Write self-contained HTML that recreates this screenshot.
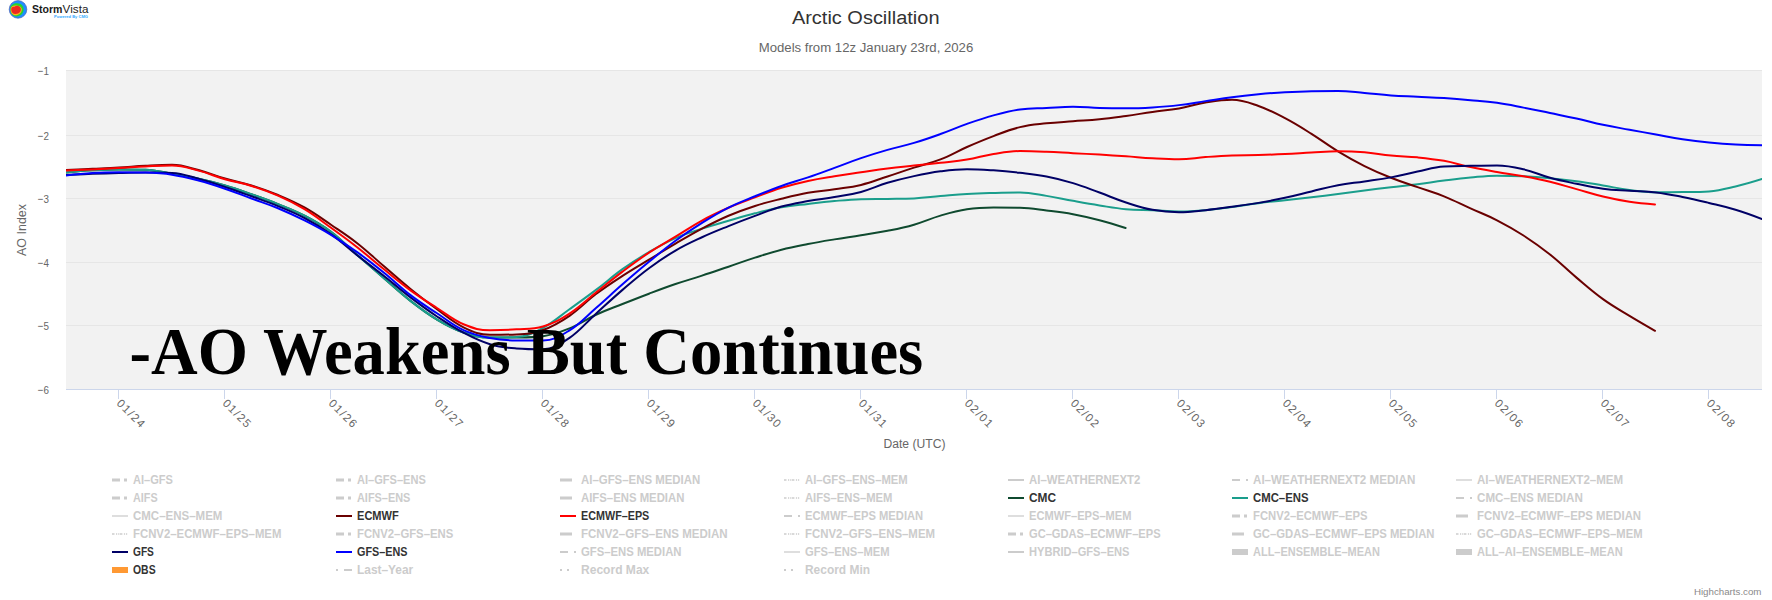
<!DOCTYPE html><html><head><meta charset="utf-8"><style>html,body{margin:0;padding:0;background:#fff;width:1772px;height:600px;overflow:hidden}svg{display:block}text{font-family:"Liberation Sans",sans-serif}</style></head><body>
<svg width="1772" height="600" viewBox="0 0 1772 600">
<rect width="1772" height="600" fill="#fff"/>
<rect x="66" y="70" width="1696" height="319" fill="#f2f2f2"/>
<rect x="66" y="70" width="1696" height="1" fill="#e6e6e6"/>
<rect x="66" y="135" width="1696" height="1" fill="#e6e6e6"/>
<rect x="66" y="198" width="1696" height="1" fill="#e6e6e6"/>
<rect x="66" y="262" width="1696" height="1" fill="#e6e6e6"/>
<rect x="66" y="325" width="1696" height="1" fill="#e6e6e6"/>
<rect x="66" y="389" width="1696" height="1" fill="#ccd6eb"/>
<rect x="118" y="390" width="1" height="9" fill="#ccd6eb"/>
<rect x="224" y="390" width="1" height="9" fill="#ccd6eb"/>
<rect x="330" y="390" width="1" height="9" fill="#ccd6eb"/>
<rect x="436" y="390" width="1" height="9" fill="#ccd6eb"/>
<rect x="542" y="390" width="1" height="9" fill="#ccd6eb"/>
<rect x="648" y="390" width="1" height="9" fill="#ccd6eb"/>
<rect x="754" y="390" width="1" height="9" fill="#ccd6eb"/>
<rect x="860" y="390" width="1" height="9" fill="#ccd6eb"/>
<rect x="966" y="390" width="1" height="9" fill="#ccd6eb"/>
<rect x="1072" y="390" width="1" height="9" fill="#ccd6eb"/>
<rect x="1178" y="390" width="1" height="9" fill="#ccd6eb"/>
<rect x="1284" y="390" width="1" height="9" fill="#ccd6eb"/>
<rect x="1390" y="390" width="1" height="9" fill="#ccd6eb"/>
<rect x="1496" y="390" width="1" height="9" fill="#ccd6eb"/>
<rect x="1602" y="390" width="1" height="9" fill="#ccd6eb"/>
<rect x="1708" y="390" width="1" height="9" fill="#ccd6eb"/>
<text x="49" y="74.6" text-anchor="end" font-size="11.8" fill="#666" textLength="11.2" lengthAdjust="spacingAndGlyphs">−1</text>
<text x="49" y="139.6" text-anchor="end" font-size="11.8" fill="#666" textLength="11.2" lengthAdjust="spacingAndGlyphs">−2</text>
<text x="49" y="202.6" text-anchor="end" font-size="11.8" fill="#666" textLength="11.2" lengthAdjust="spacingAndGlyphs">−3</text>
<text x="49" y="266.6" text-anchor="end" font-size="11.8" fill="#666" textLength="11.2" lengthAdjust="spacingAndGlyphs">−4</text>
<text x="49" y="329.6" text-anchor="end" font-size="11.8" fill="#666" textLength="11.2" lengthAdjust="spacingAndGlyphs">−5</text>
<text x="49" y="393.6" text-anchor="end" font-size="11.8" fill="#666" textLength="11.2" lengthAdjust="spacingAndGlyphs">−6</text>
<text transform="translate(116,404) rotate(45)" font-size="11.5" fill="#666" textLength="34.5" lengthAdjust="spacing">01/24</text>
<text transform="translate(222,404) rotate(45)" font-size="11.5" fill="#666" textLength="34.5" lengthAdjust="spacing">01/25</text>
<text transform="translate(328,404) rotate(45)" font-size="11.5" fill="#666" textLength="34.5" lengthAdjust="spacing">01/26</text>
<text transform="translate(434,404) rotate(45)" font-size="11.5" fill="#666" textLength="34.5" lengthAdjust="spacing">01/27</text>
<text transform="translate(540,404) rotate(45)" font-size="11.5" fill="#666" textLength="34.5" lengthAdjust="spacing">01/28</text>
<text transform="translate(646,404) rotate(45)" font-size="11.5" fill="#666" textLength="34.5" lengthAdjust="spacing">01/29</text>
<text transform="translate(752,404) rotate(45)" font-size="11.5" fill="#666" textLength="34.5" lengthAdjust="spacing">01/30</text>
<text transform="translate(858,404) rotate(45)" font-size="11.5" fill="#666" textLength="34.5" lengthAdjust="spacing">01/31</text>
<text transform="translate(964,404) rotate(45)" font-size="11.5" fill="#666" textLength="34.5" lengthAdjust="spacing">02/01</text>
<text transform="translate(1070,404) rotate(45)" font-size="11.5" fill="#666" textLength="34.5" lengthAdjust="spacing">02/02</text>
<text transform="translate(1176,404) rotate(45)" font-size="11.5" fill="#666" textLength="34.5" lengthAdjust="spacing">02/03</text>
<text transform="translate(1282,404) rotate(45)" font-size="11.5" fill="#666" textLength="34.5" lengthAdjust="spacing">02/04</text>
<text transform="translate(1388,404) rotate(45)" font-size="11.5" fill="#666" textLength="34.5" lengthAdjust="spacing">02/05</text>
<text transform="translate(1494,404) rotate(45)" font-size="11.5" fill="#666" textLength="34.5" lengthAdjust="spacing">02/06</text>
<text transform="translate(1600,404) rotate(45)" font-size="11.5" fill="#666" textLength="34.5" lengthAdjust="spacing">02/07</text>
<text transform="translate(1706,404) rotate(45)" font-size="11.5" fill="#666" textLength="34.5" lengthAdjust="spacing">02/08</text>
<text x="914.5" y="448" text-anchor="middle" font-size="12" fill="#666" textLength="62" lengthAdjust="spacingAndGlyphs">Date (UTC)</text>
<text transform="translate(26,230) rotate(-90)" text-anchor="middle" font-size="12" fill="#666" textLength="52" lengthAdjust="spacingAndGlyphs">AO Index</text>
<text x="865.7" y="24" text-anchor="middle" font-size="18" fill="#333" textLength="147.6" lengthAdjust="spacingAndGlyphs">Arctic Oscillation</text>
<text x="866" y="52" text-anchor="middle" font-size="12" fill="#666" textLength="214.6" lengthAdjust="spacingAndGlyphs">Models from 12z January 23rd, 2026</text>
<clipPath id="pc"><rect x="66" y="70" width="1696" height="319"/></clipPath>
<g clip-path="url(#pc)" fill="none" stroke-width="2" stroke-linejoin="round" stroke-linecap="round">
<path d="M66.00 172.40C66.00 172.40 81.90 170.90 92.50 170.30C103.10 169.71 108.40 169.41 119.00 169.41C129.60 169.41 134.90 169.41 145.50 169.68C156.10 169.95 161.40 172.06 172.00 173.88C182.60 175.70 187.90 176.47 198.50 178.78C209.10 181.10 214.40 182.36 225.00 185.46C235.60 188.55 240.90 190.54 251.50 194.26C262.10 197.98 267.40 199.78 278.00 204.06C288.60 208.34 293.90 210.12 304.50 215.66C315.10 221.20 320.40 223.85 331.00 231.77C341.60 239.69 346.90 245.96 357.50 255.24C368.10 264.53 373.40 269.08 384.00 278.21C394.60 287.35 399.90 292.63 410.50 300.90C421.10 309.18 426.40 313.27 437.00 319.59C447.60 325.92 452.90 328.92 463.50 332.51C474.10 336.10 479.40 337.55 490.00 337.55C500.60 337.55 505.90 337.55 516.50 337.45C527.10 337.35 532.40 337.45 543.00 336.18C553.60 334.90 558.90 332.69 569.50 328.41C580.10 324.13 585.40 319.65 596.00 314.77C606.60 309.89 611.90 308.22 622.50 304.01C633.10 299.79 638.40 297.68 649.00 293.69C659.60 289.69 664.90 287.65 675.50 284.04C686.10 280.43 691.40 279.10 702.00 275.63C712.60 272.16 717.90 270.27 728.50 266.68C739.10 263.09 744.40 261.08 755.00 257.67C765.60 254.27 770.90 252.40 781.50 249.67C792.10 246.93 797.40 246.06 808.00 244.00C818.60 241.94 823.90 241.11 834.50 239.37C845.10 237.62 850.40 236.98 861.00 235.26C871.60 233.55 876.90 232.90 887.50 230.79C898.10 228.67 903.40 227.71 914.00 224.67C924.60 221.64 929.90 218.68 940.50 215.61C951.10 212.53 956.40 210.91 967.00 209.31C977.60 207.71 982.90 207.59 993.50 207.59C1004.10 207.59 1009.40 207.59 1020.00 207.83C1030.60 208.07 1035.90 209.19 1046.50 210.46C1057.10 211.73 1062.40 212.22 1073.00 214.16C1083.60 216.11 1088.90 217.40 1099.50 220.19C1109.94 222.94 1125.60 228.00 1125.60 228.00" stroke="#0f4a2f"/>
<path d="M66.00 172.40C66.00 172.40 81.90 170.90 92.50 170.30C103.10 169.71 108.40 169.41 119.00 169.41C129.60 169.41 134.90 169.41 145.50 169.68C156.10 169.95 161.40 172.06 172.00 173.88C182.60 175.70 187.90 176.47 198.50 178.78C209.10 181.10 214.40 182.36 225.00 185.46C235.60 188.55 240.90 190.54 251.50 194.26C262.10 197.98 267.40 199.78 278.00 204.06C288.60 208.34 293.90 210.12 304.50 215.66C315.10 221.20 320.40 223.85 331.00 231.77C341.60 239.69 346.90 245.96 357.50 255.24C368.10 264.53 373.40 269.08 384.00 278.21C394.60 287.35 399.90 292.63 410.50 300.90C421.10 309.18 426.40 313.27 437.00 319.59C447.60 325.92 452.90 328.91 463.50 332.51C474.10 336.11 479.40 337.59 490.00 337.59C500.60 337.59 505.90 337.59 516.50 337.03C527.10 336.47 532.40 333.35 543.00 327.79C553.60 322.23 558.90 316.81 569.50 309.23C580.10 301.65 585.40 297.91 596.00 289.90C606.60 281.89 611.90 276.73 622.50 269.17C633.10 261.60 638.40 258.30 649.00 252.08C659.60 245.86 664.90 242.74 675.50 238.06C686.10 233.38 691.40 232.14 702.00 228.67C712.60 225.20 717.90 223.79 728.50 220.72C739.10 217.65 744.40 215.99 755.00 213.31C765.60 210.64 770.90 209.22 781.50 207.34C792.10 205.47 797.40 205.19 808.00 203.93C818.60 202.66 823.90 201.98 834.50 201.03C845.10 200.09 850.40 199.49 861.00 199.20C871.60 198.92 876.90 199.07 887.50 198.92C898.10 198.76 903.40 198.92 914.00 198.42C924.60 197.93 929.90 197.01 940.50 196.12C951.10 195.24 956.40 194.62 967.00 193.99C977.60 193.36 982.90 193.27 993.50 192.98C1004.10 192.68 1009.40 192.51 1020.00 192.51C1030.60 192.51 1035.90 194.21 1046.50 195.88C1057.10 197.54 1062.40 198.93 1073.00 200.84C1083.60 202.75 1088.90 203.74 1099.50 205.42C1110.10 207.10 1115.40 208.26 1126.00 209.24C1136.60 210.21 1141.90 209.85 1152.50 210.30C1163.10 210.75 1168.40 211.49 1179.00 211.49C1189.60 211.49 1194.90 211.08 1205.50 210.16C1216.10 209.24 1221.40 208.29 1232.00 206.90C1242.60 205.50 1247.90 204.52 1258.50 203.18C1269.10 201.84 1274.40 201.39 1285.00 200.21C1295.60 199.03 1300.90 198.53 1311.50 197.27C1322.10 196.01 1327.40 195.29 1338.00 193.92C1348.60 192.55 1353.90 191.78 1364.50 190.44C1375.10 189.10 1380.40 188.47 1391.00 187.21C1401.60 185.95 1406.90 185.46 1417.50 184.14C1428.10 182.81 1433.40 181.90 1444.00 180.59C1454.60 179.27 1459.90 178.54 1470.50 177.55C1481.10 176.56 1486.40 175.65 1497.00 175.65C1507.60 175.65 1512.90 175.74 1523.50 176.24C1534.10 176.74 1539.40 177.18 1550.00 178.16C1560.60 179.14 1565.90 179.70 1576.50 181.15C1587.10 182.61 1592.40 183.67 1603.00 185.44C1613.60 187.21 1618.90 188.66 1629.50 190.02C1640.10 191.38 1645.40 192.24 1656.00 192.24C1666.60 192.24 1671.90 192.24 1682.50 192.12C1693.10 191.99 1698.40 192.12 1709.00 191.41C1719.60 190.70 1724.90 189.00 1735.50 186.52C1746.10 184.04 1762.00 179.00 1762.00 179.00" stroke="#1a9e8c"/>
<path d="M66.00 170.00C66.00 170.00 81.90 169.29 92.50 168.79C103.10 168.29 108.40 168.10 119.00 167.50C129.60 166.90 134.90 166.30 145.50 165.77C156.10 165.24 161.40 164.85 172.00 164.85C182.60 164.85 187.90 167.34 198.50 170.08C209.10 172.82 214.40 175.49 225.00 178.57C235.60 181.64 240.90 182.17 251.50 185.45C262.10 188.73 267.40 190.57 278.00 194.97C288.60 199.38 293.90 201.54 304.50 207.49C315.10 213.45 320.40 217.57 331.00 224.76C341.60 231.94 346.90 235.12 357.50 243.42C368.10 251.73 373.40 257.19 384.00 266.29C394.60 275.40 399.90 280.36 410.50 288.94C421.10 297.53 426.40 301.54 437.00 309.21C447.60 316.88 452.90 322.17 463.50 327.29C474.10 332.40 479.40 334.80 490.00 334.80C500.60 334.80 505.90 334.80 516.50 334.39C527.10 333.99 532.40 333.76 543.00 330.05C553.60 326.35 558.90 323.07 569.50 315.87C580.10 308.67 585.40 302.07 596.00 294.07C606.60 286.07 611.90 282.77 622.50 275.87C633.10 268.98 638.40 266.06 649.00 259.61C659.60 253.16 664.90 249.81 675.50 243.61C686.10 237.41 691.40 234.18 702.00 228.61C712.60 223.03 717.90 220.28 728.50 215.74C739.10 211.21 744.40 209.32 755.00 205.93C765.60 202.53 770.90 201.38 781.50 198.76C792.10 196.15 797.40 194.76 808.00 192.85C818.60 190.93 823.90 190.77 834.50 189.19C845.10 187.60 850.40 187.48 861.00 184.93C871.60 182.39 876.90 179.93 887.50 176.46C898.10 172.99 903.40 170.99 914.00 167.58C924.60 164.18 929.90 163.54 940.50 159.42C951.10 155.31 956.40 151.68 967.00 147.01C977.60 142.34 982.90 140.06 993.50 136.09C1004.10 132.11 1009.40 129.66 1020.00 127.11C1030.60 124.57 1035.90 124.51 1046.50 123.34C1057.10 122.17 1062.40 122.06 1073.00 121.25C1083.60 120.44 1088.90 120.35 1099.50 119.28C1110.10 118.22 1115.40 117.38 1126.00 115.92C1136.60 114.45 1141.90 113.46 1152.50 111.96C1163.10 110.46 1168.40 110.31 1179.00 108.44C1189.60 106.57 1194.90 104.34 1205.50 102.61C1216.10 100.88 1221.40 99.80 1232.00 99.80C1242.60 99.80 1247.90 102.31 1258.50 105.99C1269.10 109.67 1274.40 112.62 1285.00 118.19C1295.60 123.76 1300.90 127.22 1311.50 133.85C1322.10 140.48 1327.40 144.89 1338.00 151.33C1348.60 157.77 1353.90 160.76 1364.50 166.05C1375.10 171.34 1380.40 173.56 1391.00 177.78C1401.60 182.00 1406.90 183.44 1417.50 187.15C1428.10 190.87 1433.40 192.10 1444.00 196.35C1454.60 200.60 1459.90 203.62 1470.50 208.41C1481.10 213.20 1486.40 214.89 1497.00 220.30C1507.60 225.72 1512.90 228.65 1523.50 235.49C1534.10 242.33 1539.40 246.08 1550.00 254.51C1560.60 262.93 1565.90 268.70 1576.50 277.63C1587.10 286.56 1592.40 291.51 1603.00 299.16C1613.60 306.81 1618.90 309.44 1629.50 315.89C1639.70 322.10 1655.00 330.80 1655.00 330.80" stroke="#6a0000"/>
<path d="M66.00 170.60C66.00 170.60 81.90 169.90 92.50 169.38C103.10 168.86 108.40 168.58 119.00 168.00C129.60 167.42 134.90 166.96 145.50 166.46C156.10 165.96 161.40 165.51 172.00 165.51C182.60 165.51 187.90 167.89 198.50 170.63C209.10 173.37 214.40 176.15 225.00 179.21C235.60 182.28 240.90 182.67 251.50 185.95C262.10 189.24 267.40 190.99 278.00 195.64C288.60 200.30 293.90 202.80 304.50 209.22C315.10 215.64 320.40 220.09 331.00 227.75C341.60 235.41 346.90 239.20 357.50 247.51C368.10 255.82 373.40 260.74 384.00 269.31C394.60 277.89 399.90 282.63 410.50 290.37C421.10 298.11 426.40 301.23 437.00 308.01C447.60 314.80 452.90 319.84 463.50 324.28C474.10 328.72 479.40 330.20 490.00 330.20C500.60 330.20 505.90 330.12 516.50 329.36C527.10 328.61 532.40 329.36 543.00 326.43C553.60 323.50 558.90 320.32 569.50 313.54C580.10 306.76 585.40 300.91 596.00 292.52C606.60 284.13 611.90 279.57 622.50 271.60C633.10 263.63 638.40 259.64 649.00 252.66C659.60 245.67 664.90 243.10 675.50 236.68C686.10 230.27 691.40 226.34 702.00 220.56C712.60 214.78 717.90 212.42 728.50 207.78C739.10 203.15 744.40 201.39 755.00 197.39C765.60 193.39 770.90 191.07 781.50 187.78C792.10 184.49 797.40 183.24 808.00 180.92C818.60 178.61 823.90 177.94 834.50 176.21C845.10 174.48 850.40 173.82 861.00 172.27C871.60 170.73 876.90 169.82 887.50 168.48C898.10 167.13 903.40 166.69 914.00 165.55C924.60 164.41 929.90 163.97 940.50 162.78C951.10 161.59 956.40 161.35 967.00 159.60C977.60 157.85 982.90 155.74 993.50 154.03C1004.10 152.32 1009.40 151.06 1020.00 151.06C1030.60 151.06 1035.90 151.30 1046.50 151.72C1057.10 152.15 1062.40 152.62 1073.00 153.19C1083.60 153.77 1088.90 153.97 1099.50 154.59C1110.10 155.21 1115.40 155.56 1126.00 156.30C1136.60 157.04 1141.90 157.69 1152.50 158.29C1163.10 158.89 1168.40 159.30 1179.00 159.30C1189.60 159.30 1194.90 157.83 1205.50 157.06C1216.10 156.29 1221.40 155.87 1232.00 155.46C1242.60 155.05 1247.90 155.28 1258.50 154.99C1269.10 154.70 1274.40 154.52 1285.00 154.02C1295.60 153.53 1300.90 153.07 1311.50 152.51C1322.10 151.95 1327.40 151.23 1338.00 151.23C1348.60 151.23 1353.90 151.39 1364.50 152.26C1375.10 153.14 1380.40 154.59 1391.00 155.60C1401.60 156.62 1406.90 156.30 1417.50 157.35C1428.10 158.39 1433.40 158.90 1444.00 160.85C1454.60 162.80 1459.90 164.86 1470.50 167.10C1481.10 169.34 1486.40 170.19 1497.00 172.04C1507.60 173.88 1512.90 174.37 1523.50 176.32C1534.10 178.28 1539.40 179.23 1550.00 181.80C1560.60 184.37 1565.90 186.21 1576.50 189.16C1587.10 192.10 1592.40 194.01 1603.00 196.54C1613.60 199.07 1618.90 200.18 1629.50 201.80C1639.70 203.36 1655.00 204.50 1655.00 204.50" stroke="#ff0000"/>
<path d="M66.00 175.00C66.00 175.00 81.90 174.27 92.50 173.87C103.10 173.48 108.40 173.28 119.00 173.02C129.60 172.77 134.90 172.61 145.50 172.61C156.10 172.61 161.40 172.61 172.00 172.98C182.60 173.34 187.90 176.05 198.50 178.84C209.10 181.64 214.40 183.46 225.00 186.94C235.60 190.43 240.90 192.44 251.50 196.28C262.10 200.11 267.40 201.78 278.00 206.13C288.60 210.47 293.90 212.40 304.50 218.00C315.10 223.60 320.40 226.62 331.00 234.12C341.60 241.61 346.90 247.09 357.50 255.48C368.10 263.87 373.40 267.69 384.00 276.07C394.60 284.44 399.90 289.29 410.50 297.37C421.10 305.45 426.40 309.40 437.00 316.46C447.60 323.53 452.90 327.14 463.50 332.69C474.10 338.24 479.40 341.05 490.00 344.20C500.60 347.35 505.90 347.64 516.50 348.46C527.10 349.29 532.40 349.29 543.00 349.29C553.60 349.29 558.90 345.00 569.50 337.87C580.10 330.74 585.40 323.25 596.00 313.65C606.60 304.05 611.90 298.95 622.50 289.87C633.10 280.78 638.40 276.09 649.00 268.23C659.60 260.37 664.90 256.76 675.50 250.56C686.10 244.36 691.40 242.11 702.00 237.22C712.60 232.32 717.90 230.34 728.50 226.07C739.10 221.81 744.40 219.81 755.00 215.91C765.60 212.01 770.90 209.55 781.50 206.58C792.10 203.61 797.40 202.99 808.00 201.07C818.60 199.16 823.90 198.84 834.50 197.01C845.10 195.17 850.40 194.75 861.00 191.91C871.60 189.07 876.90 185.97 887.50 182.81C898.10 179.65 903.40 178.42 914.00 176.12C924.60 173.83 929.90 172.72 940.50 171.34C951.10 169.96 956.40 169.21 967.00 169.21C977.60 169.21 982.90 169.65 993.50 170.37C1004.10 171.10 1009.40 171.62 1020.00 172.84C1030.60 174.06 1035.90 174.42 1046.50 176.47C1057.10 178.52 1062.40 179.88 1073.00 183.09C1083.60 186.31 1088.90 188.68 1099.50 192.55C1110.10 196.42 1115.40 199.00 1126.00 202.46C1136.60 205.92 1141.90 207.88 1152.50 209.85C1163.10 211.82 1168.40 212.30 1179.00 212.30C1189.60 212.30 1194.90 211.29 1205.50 210.19C1216.10 209.09 1221.40 208.26 1232.00 206.80C1242.60 205.33 1247.90 204.68 1258.50 202.88C1269.10 201.07 1274.40 200.06 1285.00 197.78C1295.60 195.49 1300.90 193.97 1311.50 191.46C1322.10 188.95 1327.40 187.22 1338.00 185.22C1348.60 183.22 1353.90 183.04 1364.50 181.47C1375.10 179.90 1380.40 179.33 1391.00 177.36C1401.60 175.38 1406.90 173.75 1417.50 171.58C1428.10 169.41 1433.40 167.17 1444.00 166.51C1454.60 165.86 1459.90 166.06 1470.50 165.86C1481.10 165.66 1486.40 165.52 1497.00 165.52C1507.60 165.52 1512.90 166.85 1523.50 169.31C1534.10 171.77 1539.40 174.91 1550.00 177.81C1560.60 180.70 1565.90 181.59 1576.50 183.77C1587.10 185.96 1592.40 187.33 1603.00 188.73C1613.60 190.14 1618.90 190.07 1629.50 190.81C1640.10 191.55 1645.40 191.20 1656.00 192.43C1666.60 193.67 1671.90 194.89 1682.50 196.99C1693.10 199.10 1698.40 200.42 1709.00 202.97C1719.60 205.53 1724.90 206.56 1735.50 209.76C1746.10 212.97 1762.00 219.00 1762.00 219.00" stroke="#000066"/>
<path d="M66.00 175.40C66.00 175.40 81.90 173.50 92.50 172.91C103.10 172.32 108.40 172.32 119.00 172.32C129.60 172.32 134.90 172.32 145.50 172.62C156.10 172.91 161.40 173.07 172.00 174.66C182.60 176.24 187.90 177.73 198.50 180.54C209.10 183.36 214.40 185.12 225.00 188.71C235.60 192.31 240.90 194.62 251.50 198.52C262.10 202.43 267.40 203.84 278.00 208.22C288.60 212.60 293.90 215.11 304.50 220.43C315.10 225.76 320.40 228.46 331.00 234.86C341.60 241.26 346.90 244.84 357.50 252.42C368.10 260.00 373.40 264.22 384.00 272.77C394.60 281.31 399.90 287.04 410.50 295.14C421.10 303.25 426.40 306.29 437.00 313.28C447.60 320.28 452.90 325.19 463.50 330.13C474.10 335.08 479.40 335.93 490.00 338.00C500.60 340.07 505.90 340.46 516.50 340.50C527.10 340.54 532.40 340.54 543.00 340.54C553.60 340.54 558.90 336.86 569.50 330.35C580.10 323.85 585.40 317.21 596.00 308.00C606.60 298.80 611.90 293.56 622.50 284.32C633.10 275.09 638.40 270.53 649.00 261.82C659.60 253.10 664.90 248.54 675.50 240.76C686.10 232.98 691.40 229.55 702.00 222.92C712.60 216.29 717.90 212.96 728.50 207.62C739.10 202.28 744.40 200.56 755.00 196.23C765.60 191.89 770.90 189.71 781.50 185.94C792.10 182.18 797.40 181.03 808.00 177.42C818.60 173.81 823.90 171.76 834.50 167.90C845.10 164.05 850.40 161.74 861.00 158.14C871.60 154.53 876.90 152.94 887.50 149.89C898.10 146.84 903.40 146.07 914.00 142.90C924.60 139.73 929.90 137.82 940.50 134.02C951.10 130.22 956.40 127.63 967.00 123.90C977.60 120.16 982.90 118.25 993.50 115.36C1004.10 112.47 1009.40 110.93 1020.00 109.45C1030.60 107.97 1035.90 108.52 1046.50 107.97C1057.10 107.43 1062.40 106.71 1073.00 106.71C1083.60 106.71 1088.90 107.64 1099.50 107.95C1110.10 108.27 1115.40 108.30 1126.00 108.30C1136.60 108.30 1141.90 108.03 1152.50 107.39C1163.10 106.75 1168.40 106.38 1179.00 105.12C1189.60 103.87 1194.90 102.72 1205.50 101.12C1216.10 99.53 1221.40 98.53 1232.00 97.16C1242.60 95.79 1247.90 95.25 1258.50 94.26C1269.10 93.26 1274.40 92.82 1285.00 92.20C1295.60 91.58 1300.90 91.30 1311.50 91.15C1322.10 91.00 1327.40 91.00 1338.00 91.00C1348.60 91.00 1353.90 92.13 1364.50 93.00C1375.10 93.88 1380.40 94.64 1391.00 95.38C1401.60 96.12 1406.90 96.16 1417.50 96.69C1428.10 97.23 1433.40 97.37 1444.00 98.05C1454.60 98.74 1459.90 99.17 1470.50 100.13C1481.10 101.08 1486.40 101.34 1497.00 102.85C1507.60 104.35 1512.90 105.60 1523.50 107.64C1534.10 109.68 1539.40 110.88 1550.00 113.05C1560.60 115.22 1565.90 116.14 1576.50 118.50C1587.10 120.85 1592.40 122.57 1603.00 124.82C1613.60 127.06 1618.90 127.79 1629.50 129.73C1640.10 131.67 1645.40 132.62 1656.00 134.51C1666.60 136.39 1671.90 137.55 1682.50 139.15C1693.10 140.75 1698.40 141.41 1709.00 142.50C1719.60 143.59 1724.90 144.05 1735.50 144.61C1746.10 145.16 1762.00 145.30 1762.00 145.30" stroke="#0000ff"/>
</g>
<text x="129.6" y="373.5" font-weight="bold" font-size="67" fill="#000" textLength="793.6" lengthAdjust="spacingAndGlyphs" style="font-family:'Liberation Serif',serif">-AO Weakens But Continues</text>
<rect x="112" y="478.5" width="8" height="3" fill="#cccccc"/><rect x="124" y="478.5" width="3" height="3" fill="#cccccc"/>
<text x="133" y="483.8" font-size="12" font-weight="bold" fill="#cccccc" textLength="39.9" lengthAdjust="spacingAndGlyphs">AI–GFS</text>
<rect x="112" y="496.5" width="8" height="3" fill="#cccccc"/><rect x="124" y="496.5" width="3" height="3" fill="#cccccc"/>
<text x="133" y="501.8" font-size="12" font-weight="bold" fill="#cccccc" textLength="24.6" lengthAdjust="spacingAndGlyphs">AIFS</text>
<rect x="112" y="515" width="16" height="2" fill="#dedede"/>
<text x="133" y="519.8" font-size="12" font-weight="bold" fill="#cccccc" textLength="89.4" lengthAdjust="spacingAndGlyphs">CMC–ENS–MEM</text>
<rect x="112" y="533" width="2.5" height="2" fill="#d9d9d9"/>
<rect x="116" y="533" width="1.2" height="2" fill="#d9d9d9"/>
<rect x="118.2" y="533" width="1.2" height="2" fill="#d9d9d9"/>
<rect x="120" y="533" width="2.4" height="2" fill="#d9d9d9"/>
<rect x="123.9" y="533" width="1.2" height="2" fill="#d9d9d9"/>
<rect x="126" y="533" width="1.2" height="2" fill="#d9d9d9"/>
<text x="133" y="537.8" font-size="12" font-weight="bold" fill="#cccccc" textLength="148.4" lengthAdjust="spacingAndGlyphs">FCNV2–ECMWF–EPS–MEM</text>
<rect x="112" y="551" width="16" height="2" fill="#000066"/>
<text x="133" y="555.8" font-size="12" font-weight="bold" fill="#333333" textLength="20.9" lengthAdjust="spacingAndGlyphs">GFS</text>
<rect x="112" y="567" width="16" height="6" fill="#ff9933"/>
<text x="133" y="573.8" font-size="12" font-weight="bold" fill="#333333" textLength="22.6" lengthAdjust="spacingAndGlyphs">OBS</text>
<rect x="336" y="478.5" width="8" height="3" fill="#cccccc"/><rect x="348" y="478.5" width="3" height="3" fill="#cccccc"/>
<text x="357" y="483.8" font-size="12" font-weight="bold" fill="#cccccc" textLength="68.8" lengthAdjust="spacingAndGlyphs">AI–GFS–ENS</text>
<rect x="336" y="496.5" width="8" height="3" fill="#cccccc"/><rect x="348" y="496.5" width="3" height="3" fill="#cccccc"/>
<text x="357" y="501.8" font-size="12" font-weight="bold" fill="#cccccc" textLength="53.3" lengthAdjust="spacingAndGlyphs">AIFS–ENS</text>
<rect x="336" y="515" width="16" height="2" fill="#6a0000"/>
<text x="357" y="519.8" font-size="12" font-weight="bold" fill="#333333" textLength="41.8" lengthAdjust="spacingAndGlyphs">ECMWF</text>
<rect x="336" y="532.5" width="8" height="3" fill="#cccccc"/><rect x="348" y="532.5" width="3" height="3" fill="#cccccc"/>
<text x="357" y="537.8" font-size="12" font-weight="bold" fill="#cccccc" textLength="96.2" lengthAdjust="spacingAndGlyphs">FCNV2–GFS–ENS</text>
<rect x="336" y="551" width="16" height="2" fill="#0000ff"/>
<text x="357" y="555.8" font-size="12" font-weight="bold" fill="#333333" textLength="50.4" lengthAdjust="spacingAndGlyphs">GFS–ENS</text>
<rect x="336" y="569" width="2" height="2" fill="#cccccc"/><rect x="344" y="569" width="8" height="2" fill="#cccccc"/>
<text x="357" y="573.8" font-size="12" font-weight="bold" fill="#cccccc" textLength="56.2" lengthAdjust="spacingAndGlyphs">Last–Year</text>
<rect x="560" y="478.5" width="12" height="3" fill="#cccccc"/>
<text x="581" y="483.8" font-size="12" font-weight="bold" fill="#cccccc" textLength="119.2" lengthAdjust="spacingAndGlyphs">AI–GFS–ENS MEDIAN</text>
<rect x="560" y="496.5" width="12" height="3" fill="#cccccc"/>
<text x="581" y="501.8" font-size="12" font-weight="bold" fill="#cccccc" textLength="103.4" lengthAdjust="spacingAndGlyphs">AIFS–ENS MEDIAN</text>
<rect x="560" y="515" width="16" height="2" fill="#ff0000"/>
<text x="581" y="519.8" font-size="12" font-weight="bold" fill="#333333" textLength="68.3" lengthAdjust="spacingAndGlyphs">ECMWF–EPS</text>
<rect x="560" y="532.5" width="12" height="3" fill="#cccccc"/>
<text x="581" y="537.8" font-size="12" font-weight="bold" fill="#cccccc" textLength="146.6" lengthAdjust="spacingAndGlyphs">FCNV2–GFS–ENS MEDIAN</text>
<rect x="560" y="551" width="8" height="2" fill="#cccccc"/><rect x="574" y="551" width="2" height="2" fill="#cccccc"/>
<text x="581" y="555.8" font-size="12" font-weight="bold" fill="#cccccc" textLength="100.5" lengthAdjust="spacingAndGlyphs">GFS–ENS MEDIAN</text>
<rect x="560" y="569" width="2" height="2" fill="#cccccc"/><rect x="567" y="569" width="2" height="2" fill="#cccccc"/>
<text x="581" y="573.8" font-size="12" font-weight="bold" fill="#cccccc" textLength="68.3" lengthAdjust="spacingAndGlyphs">Record Max</text>
<rect x="784" y="479" width="2.5" height="2" fill="#d9d9d9"/>
<rect x="788" y="479" width="1.2" height="2" fill="#d9d9d9"/>
<rect x="790.2" y="479" width="1.2" height="2" fill="#d9d9d9"/>
<rect x="792" y="479" width="2.4" height="2" fill="#d9d9d9"/>
<rect x="795.9" y="479" width="1.2" height="2" fill="#d9d9d9"/>
<rect x="798" y="479" width="1.2" height="2" fill="#d9d9d9"/>
<text x="805" y="483.8" font-size="12" font-weight="bold" fill="#cccccc" textLength="102.7" lengthAdjust="spacingAndGlyphs">AI–GFS–ENS–MEM</text>
<rect x="784" y="497" width="2.5" height="2" fill="#d9d9d9"/>
<rect x="788" y="497" width="1.2" height="2" fill="#d9d9d9"/>
<rect x="790.2" y="497" width="1.2" height="2" fill="#d9d9d9"/>
<rect x="792" y="497" width="2.4" height="2" fill="#d9d9d9"/>
<rect x="795.9" y="497" width="1.2" height="2" fill="#d9d9d9"/>
<rect x="798" y="497" width="1.2" height="2" fill="#d9d9d9"/>
<text x="805" y="501.8" font-size="12" font-weight="bold" fill="#cccccc" textLength="87.4" lengthAdjust="spacingAndGlyphs">AIFS–ENS–MEM</text>
<rect x="784" y="515" width="8" height="2" fill="#cccccc"/><rect x="798" y="515" width="2" height="2" fill="#cccccc"/>
<text x="805" y="519.8" font-size="12" font-weight="bold" fill="#cccccc" textLength="118.2" lengthAdjust="spacingAndGlyphs">ECMWF–EPS MEDIAN</text>
<rect x="784" y="533" width="2.5" height="2" fill="#d9d9d9"/>
<rect x="788" y="533" width="1.2" height="2" fill="#d9d9d9"/>
<rect x="790.2" y="533" width="1.2" height="2" fill="#d9d9d9"/>
<rect x="792" y="533" width="2.4" height="2" fill="#d9d9d9"/>
<rect x="795.9" y="533" width="1.2" height="2" fill="#d9d9d9"/>
<rect x="798" y="533" width="1.2" height="2" fill="#d9d9d9"/>
<text x="805" y="537.8" font-size="12" font-weight="bold" fill="#cccccc" textLength="130.0" lengthAdjust="spacingAndGlyphs">FCNV2–GFS–ENS–MEM</text>
<rect x="784" y="551" width="16" height="2" fill="#dedede"/>
<text x="805" y="555.8" font-size="12" font-weight="bold" fill="#cccccc" textLength="84.6" lengthAdjust="spacingAndGlyphs">GFS–ENS–MEM</text>
<rect x="784" y="569" width="2" height="2" fill="#cccccc"/><rect x="791" y="569" width="2" height="2" fill="#cccccc"/>
<text x="805" y="573.8" font-size="12" font-weight="bold" fill="#cccccc" textLength="65.0" lengthAdjust="spacingAndGlyphs">Record Min</text>
<rect x="1008" y="479" width="16" height="2" fill="#cccccc"/>
<text x="1029" y="483.8" font-size="12" font-weight="bold" fill="#cccccc" textLength="111.4" lengthAdjust="spacingAndGlyphs">AI–WEATHERNEXT2</text>
<rect x="1008" y="497" width="16" height="2" fill="#0f4a2f"/>
<text x="1029" y="501.8" font-size="12" font-weight="bold" fill="#333333" textLength="27.1" lengthAdjust="spacingAndGlyphs">CMC</text>
<rect x="1008" y="515" width="16" height="2" fill="#dedede"/>
<text x="1029" y="519.8" font-size="12" font-weight="bold" fill="#cccccc" textLength="102.5" lengthAdjust="spacingAndGlyphs">ECMWF–EPS–MEM</text>
<rect x="1008" y="532.5" width="8" height="3" fill="#cccccc"/><rect x="1020" y="532.5" width="3" height="3" fill="#cccccc"/>
<text x="1029" y="537.8" font-size="12" font-weight="bold" fill="#cccccc" textLength="131.6" lengthAdjust="spacingAndGlyphs">GC–GDAS–ECMWF–EPS</text>
<rect x="1008" y="551" width="16" height="2" fill="#cccccc"/>
<text x="1029" y="555.8" font-size="12" font-weight="bold" fill="#cccccc" textLength="100.5" lengthAdjust="spacingAndGlyphs">HYBRID–GFS–ENS</text>
<rect x="1232" y="479" width="8" height="2" fill="#cccccc"/><rect x="1246" y="479" width="2" height="2" fill="#cccccc"/>
<text x="1253" y="483.8" font-size="12" font-weight="bold" fill="#cccccc" textLength="162.3" lengthAdjust="spacingAndGlyphs">AI–WEATHERNEXT2 MEDIAN</text>
<rect x="1232" y="497" width="16" height="2" fill="#1a9e8c"/>
<text x="1253" y="501.8" font-size="12" font-weight="bold" fill="#333333" textLength="55.5" lengthAdjust="spacingAndGlyphs">CMC–ENS</text>
<rect x="1232" y="514.5" width="8" height="3" fill="#cccccc"/><rect x="1244" y="514.5" width="3" height="3" fill="#cccccc"/>
<text x="1253" y="519.8" font-size="12" font-weight="bold" fill="#cccccc" textLength="114.5" lengthAdjust="spacingAndGlyphs">FCNV2–ECMWF–EPS</text>
<rect x="1232" y="532.5" width="12" height="3" fill="#cccccc"/>
<text x="1253" y="537.8" font-size="12" font-weight="bold" fill="#cccccc" textLength="181.5" lengthAdjust="spacingAndGlyphs">GC–GDAS–ECMWF–EPS MEDIAN</text>
<rect x="1232" y="549" width="16" height="6" fill="#cccccc"/>
<text x="1253" y="555.8" font-size="12" font-weight="bold" fill="#cccccc" textLength="126.9" lengthAdjust="spacingAndGlyphs">ALL–ENSEMBLE–MEAN</text>
<rect x="1456" y="479" width="16" height="2" fill="#dedede"/>
<text x="1477" y="483.8" font-size="12" font-weight="bold" fill="#cccccc" textLength="146.2" lengthAdjust="spacingAndGlyphs">AI–WEATHERNEXT2–MEM</text>
<rect x="1456" y="497" width="8" height="2" fill="#cccccc"/><rect x="1470" y="497" width="2" height="2" fill="#cccccc"/>
<text x="1477" y="501.8" font-size="12" font-weight="bold" fill="#cccccc" textLength="105.8" lengthAdjust="spacingAndGlyphs">CMC–ENS MEDIAN</text>
<rect x="1456" y="514.5" width="12" height="3" fill="#cccccc"/>
<text x="1477" y="519.8" font-size="12" font-weight="bold" fill="#cccccc" textLength="164.1" lengthAdjust="spacingAndGlyphs">FCNV2–ECMWF–EPS MEDIAN</text>
<rect x="1456" y="533" width="2.5" height="2" fill="#d9d9d9"/>
<rect x="1460" y="533" width="1.2" height="2" fill="#d9d9d9"/>
<rect x="1462.2" y="533" width="1.2" height="2" fill="#d9d9d9"/>
<rect x="1464" y="533" width="2.4" height="2" fill="#d9d9d9"/>
<rect x="1467.9" y="533" width="1.2" height="2" fill="#d9d9d9"/>
<rect x="1470" y="533" width="1.2" height="2" fill="#d9d9d9"/>
<text x="1477" y="537.8" font-size="12" font-weight="bold" fill="#cccccc" textLength="165.5" lengthAdjust="spacingAndGlyphs">GC–GDAS–ECMWF–EPS–MEM</text>
<rect x="1456" y="549" width="16" height="6" fill="#cccccc"/>
<text x="1477" y="555.8" font-size="12" font-weight="bold" fill="#cccccc" textLength="145.7" lengthAdjust="spacingAndGlyphs">ALL–AI–ENSEMBLE–MEAN</text>
<text x="1761.5" y="595" text-anchor="end" font-size="9" fill="#8a8a8a" textLength="67.6" lengthAdjust="spacingAndGlyphs">Highcharts.com</text>
<g>
<circle cx="18" cy="9.4" r="8.8" fill="#1e8fff" stroke="#4a5fb5" stroke-width="0.7"/>
<path d="M10.2 9.5 C10 5.5 13 3.2 17 3.3 C21 3.4 23.8 6 23.6 9.8 C23.4 13.5 20.5 16.4 16.5 16.4 C12.8 16.4 10.4 13.5 10.2 9.5Z" fill="#2ad42a"/>
<path d="M10.6 9.8 C10.5 6.8 12.5 5.3 15.5 5.4 C18.7 5.5 21.8 6.5 21.8 9.5 C21.8 12.5 19 15.3 15.5 15.3 C12.5 15.3 10.7 12.8 10.6 9.8Z" fill="#ffb020"/>
<path d="M11.2 9.5 C11.2 7.2 12.6 6.3 14.6 6.8 C15.6 5.8 17.2 5.6 18.8 6.2 C20.8 7 21.3 9 20.6 11 C19.8 13 17.8 14 15.3 14 C13 14 11.2 12 11.2 9.5Z" fill="#ee2a22"/>
</g>
<text x="32" y="12.7" font-size="10" font-weight="bold" fill="#1a1a1a" textLength="30.5" lengthAdjust="spacingAndGlyphs">Storm</text>
<text x="62.6" y="12.7" font-size="10" fill="#222" textLength="25.8" lengthAdjust="spacingAndGlyphs">Vista</text>
<text x="54" y="18" font-size="3.6" font-weight="bold" fill="#33aaff" textLength="34" lengthAdjust="spacingAndGlyphs">Powered By CMG</text>
</svg></body></html>
